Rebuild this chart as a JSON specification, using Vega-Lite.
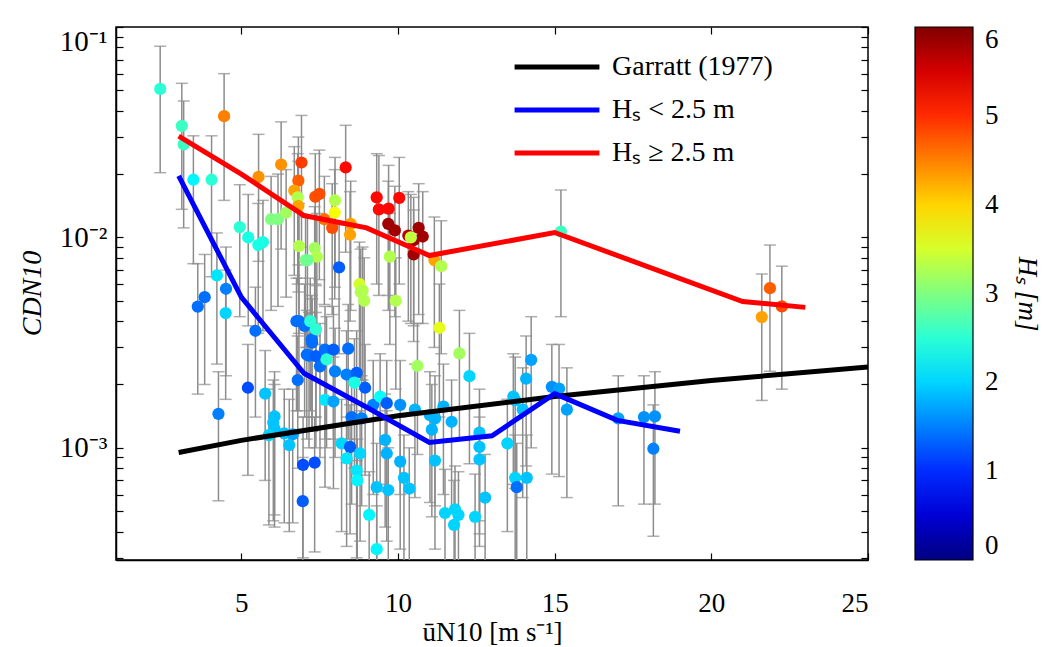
{
  "$schema": "https://vega.github.io/schema/vega-lite/v6.json",
  "width": 752,
  "height": 533,
  "autosize": {"type": "none"},
  "padding": {"left": 116, "top": 27, "right": 175, "bottom": 87},
  "background": "white",
  "config": {
    "font": "Liberation Serif",
    "view": {"stroke": "black", "strokeWidth": 1.5},
    "axis": {"grid": false, "domainColor": "black", "domainWidth": 1.5, "tickColor": "black", "tickWidth": 1.2, "labelColor": "black", "titleColor": "black", "labelFont": "Liberation Serif", "titleFont": "Liberation Serif", "titleFontWeight": "normal"},
    "legend": {"labelFont": "Liberation Serif", "titleFont": "Liberation Serif", "labelColor": "black", "titleColor": "black", "titleFontWeight": "normal"}
  },
  "datasets": {
    "pts": [
      {"u": 2.41, "cd": 0.0508, "hs": 2.5, "lo": 0.0203, "hi": 0.081},
      {"u": 3.10, "cd": 0.0339, "hs": 2.6, "lo": 0.0136, "hi": 0.054},
      {"u": 3.16, "cd": 0.0277, "hs": 2.6, "lo": 0.0111, "hi": 0.0445},
      {"u": 3.47, "cd": 0.0188, "hs": 2.2, "lo": 0.0075, "hi": 0.0304},
      {"u": 4.05, "cd": 0.0188, "hs": 2.5, "lo": 0.0065, "hi": 0.0304},
      {"u": 4.45, "cd": 0.0377, "hs": 4.5, "lo": 0.0150, "hi": 0.060},
      {"u": 4.95, "cd": 0.0112, "hs": 2.5, "lo": 0.0042, "hi": 0.0178},
      {"u": 5.22, "cd": 0.0100, "hs": 2.4, "lo": 0.0038, "hi": 0.016},
      {"u": 5.55, "cd": 0.0194, "hs": 4.4, "lo": 0.0077, "hi": 0.0309},
      {"u": 5.54, "cd": 0.0092, "hs": 2.4, "lo": 0.0035, "hi": 0.0145},
      {"u": 5.69, "cd": 0.0095, "hs": 2.4, "lo": 0.0036, "hi": 0.015},
      {"u": 5.95, "cd": 0.0122, "hs": 3.0, "lo": 0.0045, "hi": 0.0195},
      {"u": 6.17, "cd": 0.0122, "hs": 3.0, "lo": 0.0047, "hi": 0.020},
      {"u": 6.27, "cd": 0.0222, "hs": 4.4, "lo": 0.0088, "hi": 0.0354},
      {"u": 6.43, "cd": 0.0131, "hs": 3.2, "lo": 0.0052, "hi": 0.021},
      {"u": 6.92, "cd": 0.0227, "hs": 4.9, "lo": 0.0090, "hi": 0.038},
      {"u": 6.82, "cd": 0.0186, "hs": 4.7, "lo": 0.0074, "hi": 0.030},
      {"u": 6.69, "cd": 0.0167, "hs": 4.3, "lo": 0.0066, "hi": 0.027},
      {"u": 6.80, "cd": 0.0155, "hs": 3.3, "lo": 0.0060, "hi": 0.025},
      {"u": 6.82, "cd": 0.0141, "hs": 4.3, "lo": 0.0055, "hi": 0.023},
      {"u": 6.84, "cd": 0.0091, "hs": 3.3, "lo": 0.0035, "hi": 0.0145},
      {"u": 7.05, "cd": 0.0078, "hs": 3.0, "lo": 0.0030, "hi": 0.0125},
      {"u": 7.36, "cd": 0.0156, "hs": 4.8, "lo": 0.0060, "hi": 0.025},
      {"u": 7.49, "cd": 0.0161, "hs": 4.8, "lo": 0.0063, "hi": 0.026},
      {"u": 7.99, "cd": 0.0150, "hs": 3.3, "lo": 0.0058, "hi": 0.024},
      {"u": 7.98, "cd": 0.0131, "hs": 3.7, "lo": 0.0051, "hi": 0.021},
      {"u": 7.65, "cd": 0.0122, "hs": 4.6, "lo": 0.0048, "hi": 0.0195},
      {"u": 7.90, "cd": 0.0111, "hs": 4.8, "lo": 0.0043, "hi": 0.018},
      {"u": 8.49, "cd": 0.0116, "hs": 4.3, "lo": 0.0045, "hi": 0.0185},
      {"u": 8.47, "cd": 0.0103, "hs": 4.3, "lo": 0.0040, "hi": 0.0165},
      {"u": 8.33, "cd": 0.0215, "hs": 5.2, "lo": 0.0085, "hi": 0.0341},
      {"u": 7.34, "cd": 0.0089, "hs": 3.2, "lo": 0.0034, "hi": 0.014},
      {"u": 7.41, "cd": 0.0081, "hs": 3.3, "lo": 0.0031, "hi": 0.013},
      {"u": 7.11, "cd": 0.0078, "hs": 2.9, "lo": 0.0030, "hi": 0.0125},
      {"u": 8.12, "cd": 0.0072, "hs": 1.3, "lo": 0.0028, "hi": 0.0115},
      {"u": 8.77, "cd": 0.0060, "hs": 3.5, "lo": 0.0023, "hi": 0.0095},
      {"u": 8.87, "cd": 0.0056, "hs": 3.3, "lo": 0.0021, "hi": 0.009},
      {"u": 9.32, "cd": 0.0155, "hs": 5.2, "lo": 0.0060, "hi": 0.025},
      {"u": 9.39, "cd": 0.0136, "hs": 5.2, "lo": 0.0053, "hi": 0.0245},
      {"u": 9.70, "cd": 0.0137, "hs": 5.2, "lo": 0.0053, "hi": 0.022},
      {"u": 10.04, "cd": 0.0154, "hs": 5.2, "lo": 0.0060, "hi": 0.024},
      {"u": 9.69, "cd": 0.0116, "hs": 5.8, "lo": 0.0045, "hi": 0.0185},
      {"u": 9.90, "cd": 0.0108, "hs": 5.8, "lo": 0.0042, "hi": 0.0175},
      {"u": 10.33, "cd": 0.0102, "hs": 5.7, "lo": 0.0040, "hi": 0.0165},
      {"u": 10.66, "cd": 0.0111, "hs": 5.8, "lo": 0.0043, "hi": 0.018},
      {"u": 10.79, "cd": 0.0101, "hs": 5.8, "lo": 0.0039, "hi": 0.0165},
      {"u": 10.50, "cd": 0.0097, "hs": 5.8, "lo": 0.0038, "hi": 0.0155},
      {"u": 10.50, "cd": 0.0083, "hs": 5.8, "lo": 0.0032, "hi": 0.0135},
      {"u": 10.41, "cd": 0.0100, "hs": 3.4, "lo": 0.0039, "hi": 0.016},
      {"u": 9.74, "cd": 0.0081, "hs": 3.3, "lo": 0.0031, "hi": 0.013},
      {"u": 11.16, "cd": 0.0078, "hs": 4.3, "lo": 0.0030, "hi": 0.0125},
      {"u": 11.38, "cd": 0.0073, "hs": 3.3, "lo": 0.0028, "hi": 0.012},
      {"u": 9.93, "cd": 0.0050, "hs": 3.3, "lo": 0.0019, "hi": 0.008},
      {"u": 8.92, "cd": 0.0050, "hs": 3.3, "lo": 0.0019, "hi": 0.008},
      {"u": 8.81, "cd": 0.0055, "hs": 3.3, "lo": 0.0021, "hi": 0.0088},
      {"u": 11.32, "cd": 0.00372, "hs": 3.6, "lo": 0.0014, "hi": 0.006},
      {"u": 10.62, "cd": 0.00245, "hs": 3.2, "lo": 0.00093, "hi": 0.0039},
      {"u": 11.96, "cd": 0.00281, "hs": 3.2, "lo": 0.0011, "hi": 0.0045},
      {"u": 3.61, "cd": 0.00469, "hs": 1.4, "lo": 0.0018, "hi": 0.0075},
      {"u": 3.83, "cd": 0.0052, "hs": 1.4, "lo": 0.0020, "hi": 0.0083},
      {"u": 4.50, "cd": 0.00437, "hs": 2.0, "lo": 0.0017, "hi": 0.007},
      {"u": 4.51, "cd": 0.0057, "hs": 1.5, "lo": 0.0022, "hi": 0.009},
      {"u": 4.22, "cd": 0.0066, "hs": 2.1, "lo": 0.0025, "hi": 0.0105},
      {"u": 5.45, "cd": 0.0036, "hs": 1.4, "lo": 0.0014, "hi": 0.0058},
      {"u": 5.21, "cd": 0.00193, "hs": 1.2, "lo": 0.00074, "hi": 0.0031},
      {"u": 5.76, "cd": 0.00181, "hs": 1.9, "lo": 0.0007, "hi": 0.0029},
      {"u": 4.27, "cd": 0.00145, "hs": 1.5, "lo": 0.00056, "hi": 0.0023},
      {"u": 6.06, "cd": 0.00141, "hs": 1.9, "lo": 0.00048, "hi": 0.0023},
      {"u": 6.02, "cd": 0.00132, "hs": 1.9, "lo": 0.00045, "hi": 0.0021},
      {"u": 6.06, "cd": 0.00123, "hs": 1.9, "lo": 0.00042, "hi": 0.002},
      {"u": 5.88, "cd": 0.00115, "hs": 2.0, "lo": 0.00043, "hi": 0.0019},
      {"u": 6.37, "cd": 0.00117, "hs": 1.9, "lo": 0.00044, "hi": 0.0019},
      {"u": 6.64, "cd": 0.00116, "hs": 1.7, "lo": 0.00044, "hi": 0.0019},
      {"u": 6.53, "cd": 0.00103, "hs": 1.9, "lo": 0.0004, "hi": 0.0017},
      {"u": 6.76, "cd": 0.0040, "hs": 1.4, "lo": 0.0015, "hi": 0.0064},
      {"u": 6.84, "cd": 0.0040, "hs": 1.4, "lo": 0.0015, "hi": 0.0064},
      {"u": 7.02, "cd": 0.0038, "hs": 1.4, "lo": 0.0014, "hi": 0.006},
      {"u": 7.20, "cd": 0.0040, "hs": 2.5, "lo": 0.0015, "hi": 0.0064},
      {"u": 7.25, "cd": 0.00328, "hs": 1.4, "lo": 0.0012, "hi": 0.0053},
      {"u": 7.16, "cd": 0.00274, "hs": 1.4, "lo": 0.0010, "hi": 0.0044},
      {"u": 6.80, "cd": 0.0021, "hs": 1.4, "lo": 0.0008, "hi": 0.0034},
      {"u": 6.97, "cd": 0.00083, "hs": 1.2, "lo": 0.0003, "hi": 0.0014},
      {"u": 7.34, "cd": 0.00085, "hs": 1.2, "lo": 0.00032, "hi": 0.0014},
      {"u": 6.96, "cd": 0.000558, "hs": 1.3, "lo": 0.0002, "hi": 0.0009},
      {"u": 7.38, "cd": 0.00366, "hs": 2.5, "lo": 0.0014, "hi": 0.0059},
      {"u": 7.26, "cd": 0.00316, "hs": 1.4, "lo": 0.0012, "hi": 0.0051},
      {"u": 7.09, "cd": 0.00277, "hs": 1.4, "lo": 0.0011, "hi": 0.0045},
      {"u": 7.38, "cd": 0.00273, "hs": 1.3, "lo": 0.001, "hi": 0.0044},
      {"u": 7.51, "cd": 0.00244, "hs": 1.4, "lo": 0.0009, "hi": 0.0039},
      {"u": 7.67, "cd": 0.00293, "hs": 1.4, "lo": 0.0011, "hi": 0.0047},
      {"u": 7.72, "cd": 0.00263, "hs": 2.5, "lo": 0.001, "hi": 0.0042},
      {"u": 7.94, "cd": 0.00293, "hs": 1.3, "lo": 0.0011, "hi": 0.0047},
      {"u": 8.41, "cd": 0.00296, "hs": 1.4, "lo": 0.0011, "hi": 0.0048},
      {"u": 7.99, "cd": 0.00231, "hs": 1.5, "lo": 0.0009, "hi": 0.0037},
      {"u": 8.36, "cd": 0.00223, "hs": 1.5, "lo": 0.00085, "hi": 0.0036},
      {"u": 8.68, "cd": 0.00227, "hs": 1.3, "lo": 0.00087, "hi": 0.0036},
      {"u": 8.61, "cd": 0.00204, "hs": 2.4, "lo": 0.0008, "hi": 0.0033},
      {"u": 8.95, "cd": 0.00193, "hs": 1.3, "lo": 0.00074, "hi": 0.0031},
      {"u": 7.67, "cd": 0.00169, "hs": 2.1, "lo": 0.00065, "hi": 0.0027},
      {"u": 7.94, "cd": 0.00166, "hs": 1.7, "lo": 0.00064, "hi": 0.0027},
      {"u": 8.52, "cd": 0.00140, "hs": 1.4, "lo": 0.00054, "hi": 0.0023},
      {"u": 8.84, "cd": 0.00138, "hs": 1.5, "lo": 0.00053, "hi": 0.0022},
      {"u": 9.21, "cd": 0.0016, "hs": 1.5, "lo": 0.0006, "hi": 0.0026},
      {"u": 9.43, "cd": 0.00175, "hs": 2.3, "lo": 0.00067, "hi": 0.0028},
      {"u": 9.64, "cd": 0.00163, "hs": 1.3, "lo": 0.00062, "hi": 0.0026},
      {"u": 10.07, "cd": 0.0016, "hs": 1.6, "lo": 0.0006, "hi": 0.0026},
      {"u": 10.54, "cd": 0.00152, "hs": 1.8, "lo": 0.00058, "hi": 0.0025},
      {"u": 11.02, "cd": 0.00143, "hs": 1.8, "lo": 0.00055, "hi": 0.0023},
      {"u": 11.18, "cd": 0.00138, "hs": 1.8, "lo": 0.00053, "hi": 0.0022},
      {"u": 11.08, "cd": 0.00122, "hs": 1.8, "lo": 0.00047, "hi": 0.002},
      {"u": 11.45, "cd": 0.00157, "hs": 1.8, "lo": 0.0006, "hi": 0.0025},
      {"u": 11.71, "cd": 0.00133, "hs": 1.8, "lo": 0.0005, "hi": 0.0021},
      {"u": 11.18, "cd": 0.00087, "hs": 1.9, "lo": 0.00033, "hi": 0.0014},
      {"u": 9.59, "cd": 0.00109, "hs": 1.8, "lo": 0.00042, "hi": 0.0018},
      {"u": 9.64, "cd": 0.00094, "hs": 1.8, "lo": 0.00036, "hi": 0.0015},
      {"u": 10.07, "cd": 0.00086, "hs": 1.8, "lo": 0.00033, "hi": 0.0014},
      {"u": 8.20, "cd": 0.00105, "hs": 2.0, "lo": 0.0004, "hi": 0.0017},
      {"u": 8.47, "cd": 0.00101, "hs": 1.3, "lo": 0.00039, "hi": 0.0016},
      {"u": 8.79, "cd": 0.00094, "hs": 2.0, "lo": 0.00036, "hi": 0.0015},
      {"u": 8.36, "cd": 0.00089, "hs": 2.1, "lo": 0.00034, "hi": 0.0014},
      {"u": 8.68, "cd": 0.00078, "hs": 2.1, "lo": 0.0003, "hi": 0.0013},
      {"u": 8.70, "cd": 0.00070, "hs": 2.2, "lo": 0.00027, "hi": 0.0011},
      {"u": 9.32, "cd": 0.00065, "hs": 1.9, "lo": 0.00025, "hi": 0.00105},
      {"u": 9.69, "cd": 0.00063, "hs": 1.9, "lo": 0.00024, "hi": 0.001},
      {"u": 10.19, "cd": 0.00072, "hs": 1.9, "lo": 0.00028, "hi": 0.00115},
      {"u": 10.36, "cd": 0.00064, "hs": 1.9, "lo": 0.00025, "hi": 0.001},
      {"u": 9.08, "cd": 0.00048, "hs": 2.2, "lo": 0.00018, "hi": 0.00077},
      {"u": 9.32, "cd": 0.00033, "hs": 2.2, "lo": 0.00013, "hi": 0.00053},
      {"u": 11.50, "cd": 0.00049, "hs": 2.0, "lo": 0.00019, "hi": 0.00079},
      {"u": 11.82, "cd": 0.00051, "hs": 2.0, "lo": 0.0002, "hi": 0.00082},
      {"u": 11.93, "cd": 0.00048, "hs": 2.0, "lo": 0.00018, "hi": 0.00077},
      {"u": 11.79, "cd": 0.00043, "hs": 2.0, "lo": 0.00017, "hi": 0.0007},
      {"u": 12.46, "cd": 0.00047, "hs": 2.0, "lo": 0.00018, "hi": 0.00075},
      {"u": 12.78, "cd": 0.00058, "hs": 1.9, "lo": 0.00022, "hi": 0.00093},
      {"u": 12.60, "cd": 0.00118, "hs": 1.9, "lo": 0.00045, "hi": 0.0019},
      {"u": 12.60, "cd": 0.00101, "hs": 1.9, "lo": 0.00039, "hi": 0.0016},
      {"u": 12.60, "cd": 0.00088, "hs": 1.9, "lo": 0.00034, "hi": 0.0014},
      {"u": 12.28, "cd": 0.00219, "hs": 2.0, "lo": 0.00084, "hi": 0.0035},
      {"u": 13.49, "cd": 0.00105, "hs": 2.0, "lo": 0.0004, "hi": 0.0017},
      {"u": 13.68, "cd": 0.00175, "hs": 1.9, "lo": 0.00067, "hi": 0.0028},
      {"u": 13.74, "cd": 0.00072, "hs": 2.0, "lo": 0.00028, "hi": 0.00115},
      {"u": 13.79, "cd": 0.00065, "hs": 1.4, "lo": 0.00025, "hi": 0.00105},
      {"u": 15.20, "cd": 0.01066, "hs": 2.6, "lo": 0.0042, "hi": 0.0168},
      {"u": 14.25, "cd": 0.00262, "hs": 1.7, "lo": 0.001, "hi": 0.0042},
      {"u": 14.09, "cd": 0.00213, "hs": 1.8, "lo": 0.00082, "hi": 0.0034},
      {"u": 13.74, "cd": 0.00168, "hs": 1.9, "lo": 0.00064, "hi": 0.0027},
      {"u": 13.98, "cd": 0.00152, "hs": 1.9, "lo": 0.00058, "hi": 0.0024},
      {"u": 14.11, "cd": 0.00072, "hs": 1.9, "lo": 0.00028, "hi": 0.00115},
      {"u": 14.91, "cd": 0.00195, "hs": 1.6, "lo": 0.00075, "hi": 0.0031},
      {"u": 15.14, "cd": 0.00191, "hs": 1.7, "lo": 0.00073, "hi": 0.0031},
      {"u": 15.39, "cd": 0.00152, "hs": 1.7, "lo": 0.00058, "hi": 0.0024},
      {"u": 17.03, "cd": 0.00138, "hs": 1.7, "lo": 0.00053, "hi": 0.0022},
      {"u": 17.85, "cd": 0.00140, "hs": 1.6, "lo": 0.00054, "hi": 0.0022},
      {"u": 18.20, "cd": 0.00141, "hs": 1.6, "lo": 0.00054, "hi": 0.0023},
      {"u": 18.15, "cd": 0.00099, "hs": 1.5, "lo": 0.00038, "hi": 0.0016},
      {"u": 21.61, "cd": 0.00418, "hs": 4.3, "lo": 0.00168, "hi": 0.0067},
      {"u": 21.87, "cd": 0.00574, "hs": 4.7, "lo": 0.00231, "hi": 0.0092},
      {"u": 22.25, "cd": 0.0047, "hs": 4.8, "lo": 0.0019, "hi": 0.0073}
    ],
    "lines": [
      {"series": "Garratt (1977)", "u": 3, "cd": 0.00095},
      {"series": "Garratt (1977)", "u": 5, "cd": 0.001085},
      {"series": "Garratt (1977)", "u": 10, "cd": 0.00142},
      {"series": "Garratt (1977)", "u": 15, "cd": 0.001755},
      {"series": "Garratt (1977)", "u": 20, "cd": 0.00209},
      {"series": "Garratt (1977)", "u": 25, "cd": 0.002425},
      {"series": "Hₛ < 2.5 m", "u": 3, "cd": 0.0196},
      {"series": "Hₛ < 2.5 m", "u": 5, "cd": 0.0052},
      {"series": "Hₛ < 2.5 m", "u": 7, "cd": 0.00226},
      {"series": "Hₛ < 2.5 m", "u": 9, "cd": 0.00156},
      {"series": "Hₛ < 2.5 m", "u": 11, "cd": 0.00106},
      {"series": "Hₛ < 2.5 m", "u": 13, "cd": 0.00114},
      {"series": "Hₛ < 2.5 m", "u": 15, "cd": 0.00181},
      {"series": "Hₛ < 2.5 m", "u": 17, "cd": 0.00135},
      {"series": "Hₛ < 2.5 m", "u": 19, "cd": 0.0012},
      {"series": "Hₛ ≥ 2.5 m", "u": 3, "cd": 0.0303},
      {"series": "Hₛ ≥ 2.5 m", "u": 5, "cd": 0.020},
      {"series": "Hₛ ≥ 2.5 m", "u": 7, "cd": 0.0127},
      {"series": "Hₛ ≥ 2.5 m", "u": 9, "cd": 0.0111},
      {"series": "Hₛ ≥ 2.5 m", "u": 11, "cd": 0.0082},
      {"series": "Hₛ ≥ 2.5 m", "u": 15, "cd": 0.01055},
      {"series": "Hₛ ≥ 2.5 m", "u": 21, "cd": 0.00496},
      {"series": "Hₛ ≥ 2.5 m", "u": 23, "cd": 0.00465}
    ]
  },
  "resolve": {"axis": {"x": "independent", "y": "independent"}},
  "layer": [
    {
      "data": {"name": "pts"},
      "mark": {"type": "rule", "color": "#8c8c8c", "strokeWidth": 1.5, "clip": true},
      "encoding": {
        "x": {"field": "u", "type": "quantitative", "scale": {"domain": [1, 25], "nice": false, "zero": false},
          "axis": {"orient": "bottom", "values": [5, 10, 15, 20, 25], "tickSize": -7, "labelPadding": 37, "labelFontSize": 27, "title": "ūN10 [m s⁻¹]", "titleFontSize": 27, "titleY": 80, "titleBaseline": "alphabetic"}},
        "y": {"field": "lo", "type": "quantitative", "scale": {"type": "log", "domain": [0.000293, 0.1], "nice": false},
          "axis": {"orient": "left", "values": [0.0003, 0.0004, 0.0005, 0.0006, 0.0007, 0.0008, 0.0009, 0.001, 0.002, 0.003, 0.004, 0.005, 0.006, 0.007, 0.008, 0.009, 0.01, 0.02, 0.03, 0.04, 0.05, 0.06, 0.07, 0.08, 0.09, 0.1],
            "labelExpr": "datum.value === 0.1 ? '10⁻¹' : datum.value === 0.01 ? '10⁻²' : datum.value === 0.001 ? '10⁻³' : ''",
            "tickSize": -7, "labelPadding": 16, "labelFontSize": 29, "labelFlush": true, "labelOverlap": false,
            "title": "CDN10", "titleFontSize": 28, "titleFontStyle": "italic", "titleX": -70, "titleY": 266, "titleBaseline": "bottom", "titleAngle": -90}},
        "y2": {"field": "hi"}
      }
    },
    {
      "data": {"name": "pts"},
      "mark": {"type": "tick", "orient": "horizontal", "color": "#8c8c8c", "size": 12, "thickness": 1.5, "clip": true},
      "encoding": {
        "x": {"field": "u", "type": "quantitative", "axis": null},
        "y": {"field": "lo", "type": "quantitative", "axis": null}
      }
    },
    {
      "data": {"name": "pts"},
      "mark": {"type": "tick", "orient": "horizontal", "color": "#8c8c8c", "size": 12, "thickness": 1.5, "clip": true},
      "encoding": {
        "x": {"field": "u", "type": "quantitative", "axis": null},
        "y": {"field": "hi", "type": "quantitative", "axis": null}
      }
    },
    {
      "data": {"name": "pts"},
      "mark": {"type": "point", "filled": true, "opacity": 1, "size": 150, "shape": "circle", "strokeWidth": 0, "clip": true},
      "encoding": {
        "x": {"field": "u", "type": "quantitative", "axis": null},
        "y": {"field": "cd", "type": "quantitative", "axis": null},
        "fill": {"field": "hs", "type": "quantitative",
          "scale": {"type": "linear", "domain": [0, 0.75, 2.25, 3.75, 5.25, 6], "range": ["#000080", "#0000ff", "#00ffff", "#ffff00", "#ff0000", "#800000"], "interpolate": "rgb"},
          "legend": {"type": "gradient", "orient": "none", "legendX": 799, "legendY": 0, "direction": "vertical", "gradientLength": 533, "gradientThickness": 58, "gradientStrokeColor": "black", "gradientStrokeWidth": 1.2, "values": [0, 1, 2, 3, 4, 5, 6], "format": "d", "labelFontSize": 27, "labelOffset": 12, "title": "Hₛ [m]", "titleFontSize": 27, "titleFontStyle": "italic", "titleOrient": "right", "titleAnchor": "middle", "titlePadding": 14,
            "encode": {"title": {"update": {"angle": {"value": 270}}}, "labels": {"enter": {"baseline": {"value": "middle"}}, "update": {"baseline": {"value": "middle"}}}}}}
      }
    },
    {
      "data": {"name": "lines"},
      "mark": {"type": "line", "strokeWidth": 5, "clip": true},
      "encoding": {
        "x": {"field": "u", "type": "quantitative", "axis": {"orient": "top", "values": [5, 10, 15, 20, 25], "labels": false, "tickSize": -7, "title": null, "domain": false}},
        "y": {"field": "cd", "type": "quantitative", "axis": {"orient": "right", "values": [0.0003, 0.0004, 0.0005, 0.0006, 0.0007, 0.0008, 0.0009, 0.001, 0.002, 0.003, 0.004, 0.005, 0.006, 0.007, 0.008, 0.009, 0.01, 0.02, 0.03, 0.04, 0.05, 0.06, 0.07, 0.08, 0.09, 0.1], "labels": false, "tickSize": -7, "title": null, "domain": false}},
        "stroke": {"field": "series", "type": "nominal",
          "scale": {"domain": ["Garratt (1977)", "Hₛ < 2.5 m", "Hₛ ≥ 2.5 m"], "range": ["#000000", "#0000ff", "#ff0000"]},
          "legend": {"orient": "none", "legendX": 424, "legendY": 23, "title": null, "symbolType": "M-3,0H3", "symbolSize": 800, "symbolStrokeWidth": 5, "labelFontSize": 28, "labelOffset": 38, "labelLimit": 400, "rowPadding": 12}},
        "order": {"field": "u", "type": "quantitative"}
      }
    }
  ]
}
